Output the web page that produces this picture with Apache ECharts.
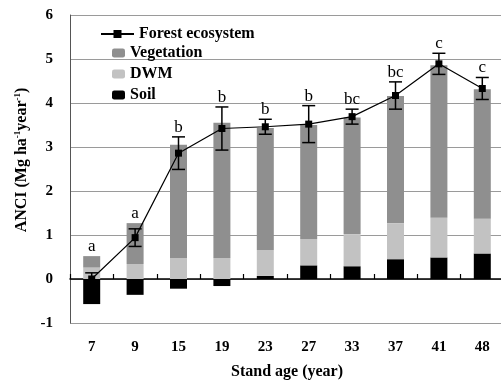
<!DOCTYPE html>
<html><head><meta charset="utf-8">
<script src="https://cdn.jsdelivr.net/npm/echarts@6/dist/echarts.min.js"></script>
<style>html,body{margin:0;padding:0;background:#fff}#c{width:501px;height:383px}</style>
</head><body><div id="c"></div>
<script>
const categories = ['7','9','15','19','23','27','33','37','41','48'];
const soil = [-0.57,-0.36,-0.22,-0.16,0.07,0.31,0.29,0.45,0.49,0.58];
const dwm = [0.26,0.34,0.48,0.48,0.59,0.60,0.73,0.82,0.90,0.79];
const vegetation = [0.26,0.93,2.57,3.07,2.77,2.59,2.65,2.89,3.47,2.94];
const forest = [0.00,0.94,2.86,3.42,3.46,3.52,3.69,4.17,4.89,4.33];
const forestErr = [0.14,0.20,0.37,0.49,0.17,0.42,0.17,0.31,0.24,0.25];
const letters = ['a','a','b','b','b','b','bc','bc','c','c'];
const yTicks = [-1,0,1,2,3,4,5,6];

const FONT = 'Liberation Serif';
const errData = categories.map((c,i)=>{
  const barTop = Math.max(soil[i],0)+dwm[i]+vegetation[i];
  return [i, forest[i], forestErr[i], Math.max(barTop, forest[i]+forestErr[i])];
});
const legendText = {fontFamily:FONT, fontWeight:'bold', fontSize:16, color:'#000'};

const chart = echarts.init(document.getElementById('c'), null, {renderer:'canvas'});
chart.setOption({
  animation:false,
  backgroundColor:'#fff',
  textStyle:{fontFamily:FONT},
  grid:{left:70, right:-3, top:15, bottom:60, outerBoundsMode:'none', containLabel:false},
  legend:[
    {data:['Forest ecosystem'], left:95, top:21, itemWidth:33, itemHeight:10, itemGap:6,
     textStyle:legendText},
    {data:['Vegetation','DWM','Soil'], orient:'vertical', left:107, top:40, itemWidth:13, itemHeight:9, itemGap:5,
     textStyle:legendText}
  ],
  xAxis:{type:'category', data:categories,
    name:'Stand age (year)', nameLocation:'middle', nameGap:41,
    nameTextStyle:{fontFamily:FONT, fontSize:16, fontWeight:'bold', color:'#000'},
    axisLine:{lineStyle:{color:'#000', width:1.5}},
    axisTick:{show:true, inside:true, length:5, lineStyle:{color:'#000', width:1.2}},
    axisLabel:{fontFamily:FONT, fontWeight:'bold', fontSize:15, color:'#000', margin:17},
    splitLine:{show:false}
  },
  yAxis:{type:'value', min:yTicks[0], max:yTicks[yTicks.length-1], interval:1,
    name:'ANCI (Mg ha{sup|-1}year{sup|-1})', nameLocation:'middle', nameGap:32, nameRotate:90,
    nameTextStyle:{fontFamily:FONT, fontSize:16, fontWeight:'bold', color:'#000', padding:[0,0,0,18],
      rich:{sup:{fontFamily:FONT, fontSize:9, fontWeight:'bold', color:'#000', verticalAlign:'top', padding:[0,0,6,0]}}},
    axisLine:{show:true, lineStyle:{color:'#555', width:1}},
    axisTick:{show:false},
    axisLabel:{fontFamily:FONT, fontWeight:'bold', fontSize:15, color:'#000', margin:17},
    splitLine:{show:true, lineStyle:{color:'#9a9a9a', width:1}}
  },
  series:[
    {name:'Soil', type:'bar', stack:'t', data:soil, barWidth:17, itemStyle:{color:'#000'}},
    {name:'DWM', type:'bar', stack:'t', data:dwm, barWidth:17, itemStyle:{color:'#c2c2c2'}},
    {name:'Vegetation', type:'bar', stack:'t', data:vegetation, barWidth:17, itemStyle:{color:'#8f8f8f'}},
    {name:'Forest ecosystem', type:'line', data:forest, symbol:'rect', symbolSize:7, z:5,
     lineStyle:{color:'#000', width:1.2}, itemStyle:{color:'#000'}},
    {name:'err', type:'custom', data:errData, z:4,
     renderItem:function(params, api){
       const x = api.coord([api.value(0), 0])[0];
       const yHi = api.coord([0, api.value(1)+api.value(2)])[1];
       const yLo = api.coord([0, api.value(1)-api.value(2)])[1];
       const yTxt = api.coord([0, api.value(3)])[1];
       const hw = 6.5;
       const ls = {stroke:'#000', lineWidth:1.5};
       return {type:'group', children:[
         {type:'line', shape:{x1:x,y1:yHi,x2:x,y2:yLo}, style:ls},
         {type:'line', shape:{x1:x-hw,y1:yHi,x2:x+hw,y2:yHi}, style:ls},
         {type:'line', shape:{x1:x-hw,y1:yLo,x2:x+hw,y2:yLo}, style:ls},
         {type:'text', x:x, y:yTxt-1, style:{text:letters[params.dataIndex], fill:'#000',
           font:'17px "Liberation Serif"', align:'center', verticalAlign:'bottom'}}
       ]};
     }}
  ]
});
</script></body></html>
